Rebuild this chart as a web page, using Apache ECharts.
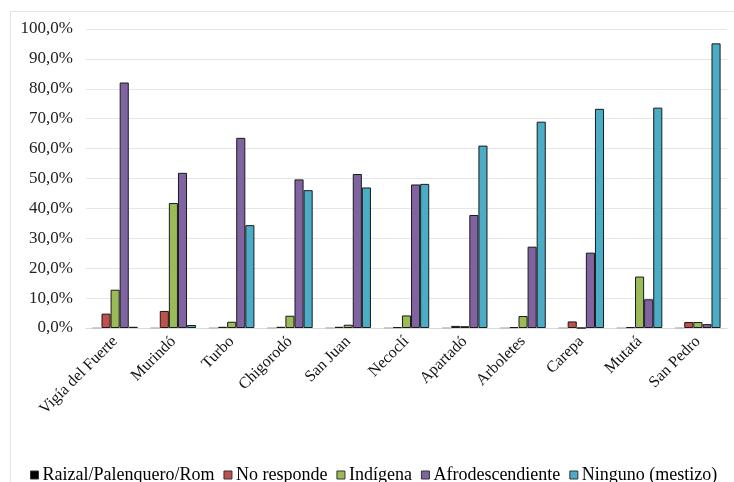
<!DOCTYPE html>
<html>
<head>
<meta charset="utf-8">
<script src="https://cdn.jsdelivr.net/npm/echarts@6/dist/echarts.min.js"></script>
<style>
html,body{margin:0;padding:0;background:#fff;}
#chart{width:734px;height:482px;}
</style>
</head>
<body>
<div id="chart"></div>
<script>
var categories = ['Vigía del Fuerte','Murindó','Turbo','Chigorodó','San Juan','Necoclí','Apartadó','Arboletes','Carepa','Mutatá','San Pedro'];
var seriesNames = ['Raizal/Palenquero/Rom','No responde','Indígena','Afrodescendiente','Ninguno (mestizo)'];
var raizal       = [0, 0, 0, 0, 0, 0, 0, 0, 0, 0, 0];
var noResponde   = [4.8, 5.7, 0.4, 0.4, 0.4, 0.3, 0.7, 0.3, 2.2, 0.3, 2.0];
var indigena     = [12.8, 41.8, 2.1, 4.1, 1.1, 4.2, 0.6, 4.0, 0, 17.2, 2.0];
var afro         = [82.1, 51.9, 63.6, 49.7, 51.5, 48.0, 37.8, 27.2, 25.2, 9.6, 1.3];
var ninguno      = [0.4, 1.0, 34.4, 46.1, 47.0, 48.2, 61.0, 69.0, 73.3, 73.7, 95.2];
var yTickLabels  = ['0,0%','10,0%','20,0%','30,0%','40,0%','50,0%','60,0%','70,0%','80,0%','90,0%','100,0%'];

var colors = ['#000000','#c0504d','#9bbb59','#8064a2','#4bacc6'];
var dataSets = [raizal, noResponde, indigena, afro, ninguno];
var font = '"Liberation Serif", "Times New Roman", serif';

var chart = echarts.init(document.getElementById('chart'), null, {renderer:'canvas'});
var series = seriesNames.map(function(name, i){
  return {
    name: name,
    type: 'bar',
    data: dataSets[i],
    barGap: '0%',
    barCategoryGap: '22%',
    itemStyle: {color: colors[i], borderColor: i === 0 ? '#bbbbbb' : '#1a1a1a', borderWidth: 1},
    emphasis: {disabled: true}
  };
});

chart.setOption({
  animation: false,
  backgroundColor: '#ffffff',
  graphic: [{
    type: 'rect',
    shape: {x: 10.5, y: 11.5, width: 900, height: 900},
    style: {fill: 'none', stroke: '#e3e3e3', lineWidth: 1},
    silent: true, z: -10
  }],
  grid: {left: 86, right: 7, top: 29, bottom: 154},
  legend: {
    data: seriesNames,
    left: 25, top: 461,
    icon: 'rect',
    itemWidth: 8, itemHeight: 8, itemGap: 9,
    textStyle: {fontFamily: font, fontSize: 18, color: '#000', padding: [0,0,0,-1]},
    itemStyle: {borderColor: '#333', borderWidth: 1}
  },
  xAxis: {
    type: 'category',
    data: categories,
    axisLine: {show: true, lineStyle: {color: '#d9d9d9', width: 1}},
    axisTick: {show: false},
    axisLabel: {rotate: 45, margin: 11, interval: 0, fontFamily: font, fontSize: 16, color: '#111'}
  },
  yAxis: {
    type: 'value',
    min: 0, max: 100, interval: 10,
    axisLine: {show: false},
    axisTick: {show: false},
    splitLine: {lineStyle: {color: '#e6e6e6', width: 1}},
    axisLabel: {
      margin: 13, fontFamily: font, fontSize: 17, color: '#222',
      formatter: function(v){ return yTickLabels[Math.round(v/10)]; }
    }
  },
  series: series
});
</script>
</body>
</html>
